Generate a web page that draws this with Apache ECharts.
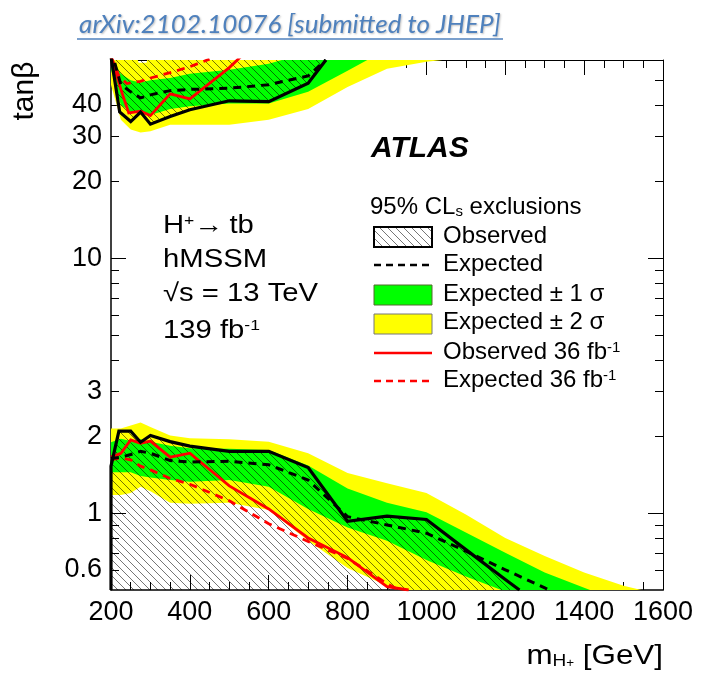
<!DOCTYPE html>
<html><head><meta charset="utf-8">
<script src="https://cdn.jsdelivr.net/npm/echarts@6/dist/echarts.min.js"></script>
<style>html,body{margin:0;padding:0;background:#fff}#c{width:702px;height:680px}</style>
</head><body><div id="c"></div>
<script>
// ---------- data (m_H+ [GeV], tan beta) ----------
// low tan(beta) region
const yellowLowUpper = [[200,2.15],[225,2.15],[250,2.21],[275,2.27],[300,2.18],[350,2.02],[400,1.97],[500,1.95],[600,1.91],[700,1.72],[800,1.44],[900,1.31],[1000,1.2],[1100,0.99],[1200,0.80],[1300,0.68],[1400,0.585],[1500,0.52],[1545,0.5]];
const yellowLowLower = [[200,1.18],[225,1.18],[250,1.20],[275,1.27],[300,1.22],[350,1.10],[400,1.09],[500,1.10],[600,1.03],[700,0.78],[800,0.61],[900,0.52],[935,0.5]];
const greenLowUpper = [[200,1.90],[225,1.96],[250,1.92],[275,1.95],[300,1.91],[350,1.84],[400,1.80],[500,1.79],[600,1.77],[700,1.54],[800,1.25],[900,1.10],[1000,1.01],[1100,0.84],[1200,0.70],[1300,0.585],[1400,0.51],[1415,0.5]];
const greenLowLower = [[200,1.45],[225,1.45],[250,1.45],[275,1.40],[300,1.38],[350,1.35],[400,1.33],[500,1.35],[600,1.27],[700,1.04],[800,0.88],[900,0.78],[1000,0.655],[1100,0.565],[1190,0.5]];
const expLow = [[200,1.64],[225,1.66],[250,1.70],[275,1.75],[300,1.72],[350,1.61],[400,1.59],[500,1.60],[600,1.55],[700,1.35],[800,0.97],[900,0.90],[1000,0.835],[1100,0.71],[1200,0.60],[1300,0.51],[1310,0.5]];
const obsLow = [[200,0.5],[200,1.53],[220,2.10],[250,2.10],[275,1.90],[300,2.02],[350,1.91],[400,1.835],[500,1.75],[600,1.75],[700,1.51],[800,0.93],[900,0.975],[1000,0.945],[1100,0.72],[1200,0.55],[1236,0.5]];
const obs36Low = [[200,1.66],[225,1.72],[250,1.94],[275,1.88],[300,1.92],[350,1.66],[400,1.72],[500,1.28],[600,1.04],[700,0.80],[800,0.67],[900,0.515],[955,0.5]];
const exp36Low = [[200,1.62],[225,1.65],[250,1.62],[275,1.53],[300,1.48],[350,1.37],[400,1.30],[500,1.12],[600,0.91],[700,0.775],[800,0.665],[900,0.53],[930,0.5]];
// high tan(beta) region
const yellowHighUpper = [[200,70],[255,70],[270,58.5],[290,58.5],[305,70],[1040,70]];
const yellowHighLower = [[200,48],[225,35],[250,32],[275,31.2],[300,31.5],[350,33.4],[400,33.4],[500,33.4],[600,35],[700,38.5],[800,47],[900,55.5],[1000,59],[1040,60]];
const greenHighUpper = [[200,62],[225,53],[250,50],[275,49],[300,50],[350,51],[400,53],[500,55],[600,58],[650,61],[700,70],[850,70]];
const greenHighLower = [[200,55],[225,40],[250,37.5],[275,37],[300,36.5],[350,38.5],[400,39.5],[500,40.5],[600,40.5],[700,45],[800,54.5],[850,60]];
const expHigh = [[200,66],[225,48],[250,45],[275,42.6],[300,43.8],[350,45.5],[400,46],[500,46.5],[600,48],[700,52],[745,60]];
const obsHigh = [[200,62],[222,37.5],[250,34.4],[275,37.5],[300,33.6],[350,36],[400,38.3],[500,41.5],[600,41.2],[700,48.7],[745,60]];
const obs36High = [[200,62],[225,46],[245,37.2],[275,37.8],[300,36.3],[350,44.2],[400,42.2],[500,56],[530,62]];
const exp36High = [[200,62],[220,52],[240,48.5],[275,49.5],[300,51],[350,53.5],[400,56.5],[450,60.5]];
const highCap = [[745,70],[200,70]];

// axis tick values / labels
const yLabelValues = [0.6,1,2,3,10,20,30,40];
const yTickValues = [0.6,0.7,0.8,0.9,1,2,3,4,5,6,7,8,9,10,20,30,40,50];
const yMajorTickValues = [1,10];

// ---------- helpers ----------
function hatch(){
  const c=document.createElement('canvas'); c.width=8; c.height=8;
  const g=c.getContext('2d'); g.strokeStyle='rgba(0,0,0,0.6)'; g.lineWidth=0.9;
  g.beginPath();
  g.moveTo(-1,-1); g.lineTo(9,9);
  g.moveTo(7,-1); g.lineTo(9,1);
  g.moveTo(-1,7); g.lineTo(1,9);
  g.stroke();
  return {image:c, repeat:'repeat'};
}
const HATCH = hatch();
function band(upper, lower){ return upper.concat(lower.slice().reverse()); }
function poly(points, fill, z){
  return {type:'custom', coordinateSystem:'cartesian2d', xAxisIndex:0, yAxisIndex:0, clip:true, silent:true, z:z,
    data:[points[0]],
    renderItem:(params, api)=>({type:'polygon', shape:{points:points.map(p=>api.coord(p))}, style:{fill:fill}})};
}
function line(data, color, width, dash, z){
  return {type:'line', xAxisIndex:0, yAxisIndex:0, data:data, showSymbol:false, symbol:'none', z:z, silent:true, clip:true,
    lineStyle:{color:color, width:width, type: dash ? [8,6] : 'solid', cap:'butt', join:'miter'}};
}

const FONT = 'Liberation Sans, Arial, Helvetica, sans-serif';
const chart = echarts.init(document.getElementById('c'), null, {renderer:'canvas'});
const yBase = {type:'log', logBase:10, min:0.5, max:60, splitLine:{show:false}, gridIndex:0};
const tickStyle = {color:'#000', width:1};
chart.setOption({
  animation:false,
  backgroundColor:'#fff',
  grid:{left:111, right:39, top:60, bottom:90, containLabel:false},
  xAxis:[
    {type:'value', min:200, max:1600, interval:200, position:'bottom',
     axisLine:{show:true, lineStyle:{color:'#000', width:1.5}},
     axisTick:{show:true, inside:true, length:15, lineStyle:tickStyle},
     minorTick:{show:true, splitNumber:4, length:8, lineStyle:tickStyle},
     axisLabel:{color:'#000', fontSize:27, fontFamily:FONT, margin:9, formatter:v=>String(v)},
     splitLine:{show:false}},
    {type:'value', min:200, max:1600, interval:200, position:'top',
     axisLine:{show:true, lineStyle:{color:'#000', width:1}},
     axisTick:{show:true, inside:true, length:15, lineStyle:tickStyle},
     minorTick:{show:true, splitNumber:4, length:8, lineStyle:tickStyle},
     axisLabel:{show:false}, splitLine:{show:false}}
  ],
  yAxis:[
    Object.assign({}, yBase, {position:'left',
      axisLine:{show:true, lineStyle:{color:'#000', width:1.5}},
      axisTick:{show:true, inside:true, length:8, customValues:yTickValues, lineStyle:tickStyle},
      axisLabel:{color:'#000', fontSize:27, fontFamily:FONT, margin:9, customValues:yLabelValues,
        formatter:v=>String(v)}}),
    Object.assign({}, yBase, {position:'left',
      axisLine:{show:false}, axisLabel:{show:false},
      axisTick:{show:true, inside:true, length:15, customValues:yMajorTickValues, lineStyle:tickStyle}}),
    Object.assign({}, yBase, {position:'right',
      axisLine:{show:true, lineStyle:{color:'#000', width:1}}, axisLabel:{show:false},
      axisTick:{show:true, inside:true, length:8, customValues:yTickValues, lineStyle:tickStyle}}),
    Object.assign({}, yBase, {position:'right',
      axisLine:{show:false}, axisLabel:{show:false},
      axisTick:{show:true, inside:true, length:15, customValues:yMajorTickValues, lineStyle:tickStyle}})
  ],
  series:[
    poly(band(yellowLowUpper, yellowLowLower), '#ffff00', 1),
    poly(band(yellowHighUpper, yellowHighLower), '#ffff00', 1),
    poly(band(greenLowUpper, greenLowLower), '#00ff00', 2),
    poly(band(greenHighUpper, greenHighLower), '#00ff00', 2),
    poly(obsLow, HATCH, 3),
    poly(obsHigh.concat(highCap), HATCH, 3),
    line(exp36Low, '#ff0000', 2.8, true, 4),
    line(exp36High, '#ff0000', 2.8, true, 4),
    line(obs36Low, '#ff0000', 2.8, false, 4),
    line(obs36High, '#ff0000', 2.8, false, 4),
    line(expLow, '#000', 3, true, 5),
    line(expHigh, '#000', 3, true, 5),
    line(obsLow, '#000', 3.2, false, 6),
    line(obsHigh, '#000', 3.2, false, 6)
  ],
  graphic:[
    // title
    {type:'text', x:290, y:25, z:10, style:{text:'arXiv:2102.10076 [submitted to JHEP]', fill:'#4f81bd',
      font:'italic 26px Lato, "Open Sans", sans-serif', textAlign:'center', textVerticalAlign:'middle',
      textShadowColor:'rgba(0,0,0,0.25)', textShadowBlur:2, textShadowOffsetX:1, textShadowOffsetY:1}},
    {type:'line', z:10, shape:{x1:77, y1:39, x2:503, y2:39}, style:{stroke:'#4f81bd', lineWidth:1.5}},
    // axis titles
    {type:'text', x:25, y:91, rotation:Math.PI/2, z:10, style:{text:'tanβ', fill:'#000', font:'30px '+FONT,
      textAlign:'center', textVerticalAlign:'middle'}},
    {type:'text', x:663, y:656, scaleX:1.12, z:10, style:{text:'m{s|H}{ss|+} [GeV]', fill:'#000', font:'28px '+FONT,
      textAlign:'right', textVerticalAlign:'middle',
      rich:{s:{fontSize:17, fontFamily:FONT, verticalAlign:'bottom', lineHeight:17}, ss:{fontSize:12, fontFamily:FONT, verticalAlign:'bottom', lineHeight:28}}}},
    // ATLAS
    {type:'text', x:371, y:149, z:10, style:{text:'ATLAS', fill:'#000', font:'italic bold 30px '+FONT, textVerticalAlign:'middle'}},
    // process annotations
    {type:'text', x:163, y:226, scaleX:1.17, z:10, style:{text:'H{sup|+}→\u2009tb', fill:'#000', font:'25px '+FONT, textVerticalAlign:'middle',
      rich:{sup:{fontSize:15, fontFamily:FONT, verticalAlign:'top', lineHeight:15}}}},
    {type:'text', x:163, y:260, scaleX:1.17, z:10, style:{text:'hMSSM', fill:'#000', font:'25px '+FONT, textVerticalAlign:'middle'}},
    {type:'text', x:163, y:294, scaleX:1.17, z:10, style:{text:'√s = 13 TeV', fill:'#000', font:'25px '+FONT, textVerticalAlign:'middle'}},
    {type:'text', x:163, y:331, scaleX:1.17, z:10, style:{text:'139 fb{sup|-1}', fill:'#000', font:'25px '+FONT, textVerticalAlign:'middle',
      rich:{sup:{fontSize:15, fontFamily:FONT, verticalAlign:'top', lineHeight:15}}}},
    // legend
    {type:'text', x:370, y:207, z:10, style:{text:'95% CL{s|s} exclusions', fill:'#000', font:'24px '+FONT, textVerticalAlign:'middle',
      rich:{s:{fontSize:15, fontFamily:FONT, verticalAlign:'bottom', lineHeight:15}}}},
    {type:'rect', z:10, shape:{x:374, y:227, width:58, height:20}, style:{fill:HATCH, stroke:'#000', lineWidth:2}},
    {type:'line', z:10, shape:{x1:374, y1:265, x2:432, y2:265}, style:{stroke:'#000', lineWidth:2.5, lineDash:[7,5]}},
    {type:'rect', z:10, shape:{x:374, y:285, width:58, height:20}, style:{fill:'#00ff00', stroke:'#556b2f', lineWidth:1}},
    {type:'rect', z:10, shape:{x:374, y:314, width:58, height:20}, style:{fill:'#ffff00', stroke:'#777', lineWidth:1}},
    {type:'line', z:10, shape:{x1:374, y1:353, x2:432, y2:353}, style:{stroke:'#ff0000', lineWidth:2.5}},
    {type:'line', z:10, shape:{x1:374, y1:381, x2:432, y2:381}, style:{stroke:'#ff0000', lineWidth:2.5, lineDash:[7,5]}},
    {type:'text', x:443, y:236, z:10, style:{text:'Observed', fill:'#000', font:'24px '+FONT, textVerticalAlign:'middle'}},
    {type:'text', x:443, y:264, z:10, style:{text:'Expected', fill:'#000', font:'24px '+FONT, textVerticalAlign:'middle'}},
    {type:'text', x:443, y:294, z:10, style:{text:'Expected ± 1 σ', fill:'#000', font:'24px '+FONT, textVerticalAlign:'middle'}},
    {type:'text', x:443, y:322, z:10, style:{text:'Expected ± 2 σ', fill:'#000', font:'24px '+FONT, textVerticalAlign:'middle'}},
    {type:'text', x:443, y:352, z:10, style:{text:'Observed 36 fb{sup|-1}', fill:'#000', font:'24px '+FONT, textVerticalAlign:'middle',
      rich:{sup:{fontSize:15, fontFamily:FONT, verticalAlign:'top', lineHeight:15}}}},
    {type:'text', x:443, y:380, z:10, style:{text:'Expected 36 fb{sup|-1}', fill:'#000', font:'24px '+FONT, textVerticalAlign:'middle',
      rich:{sup:{fontSize:15, fontFamily:FONT, verticalAlign:'top', lineHeight:15}}}}
  ]
});
</script></body></html>
